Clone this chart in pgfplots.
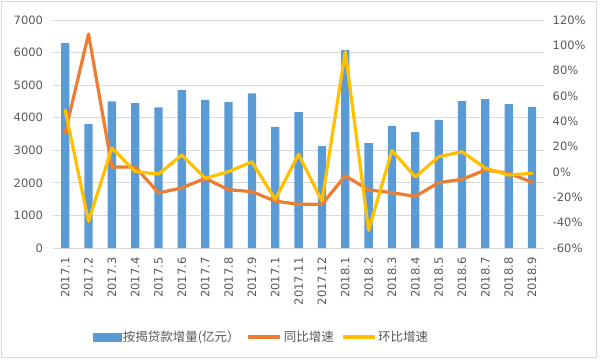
\documentclass[border=0pt]{standalone}
\usepackage{pgfplots}
\pgfplotsset{compat=1.18}
\usepackage{fontspec}
\setmainfont{DejaVu Sans}
\newfontfamily\cjk{Noto Sans CJK SC}
\definecolor{barblue}{HTML}{5B9BD5}
\definecolor{lorange}{HTML}{ED7D31}
\definecolor{lyellow}{HTML}{FFC000}
\definecolor{gridgray}{HTML}{D9D9D9}
\definecolor{txtgray}{HTML}{595959}
\pgfplotsset{
  linelegend/.style={legend image code/.code={\draw[##1, line cap=butt] (0pt,0pt) -- (32pt,0pt);}},
  barlegend/.style={legend image code/.code={\fill[barblue] (0pt,-4pt) rectangle (28pt,4pt);}},
  common/.style={
    scale only axis, width=490.2pt, height=228pt,
    xmin=-0.5, xmax=20.5,
    major tick length=0pt,
    ticklabel style={font=\fontsize{11.5}{13}\selectfont, text=txtgray},
    /pgf/number format/assume math mode=true,
  },
}
\begin{document}
\begin{tikzpicture}
\useasboundingbox (-53.5pt,-112pt) rectangle (546.5pt,248pt);
\draw[gridgray, line width=0.8pt] (-51.8pt,-109.5pt) rectangle (543.2pt,246.3pt);
\begin{axis}[common,
  ymin=0, ymax=7000,
  xtick={0,...,20},
  xticklabels={2017.1,2017.2,2017.3,2017.4,2017.5,2017.6,2017.7,2017.8,2017.9,2017.1,2017.11,2017.12,2018.1,2018.2,2018.3,2018.4,2018.5,2018.6,2018.7,2018.8,2018.9},
  ytick={0,1000,...,7000},
  axis x line*=bottom, axis y line*=left,
  x axis line style={gridgray, line width=0.8pt, -},
  y axis line style={draw=none},
  ymajorgrids, grid style={gridgray, line width=0.8pt},
  xticklabel style={rotate=90, anchor=east},
  xticklabel shift=6pt, yticklabel shift=7pt,
  yticklabel style={/pgf/number format/1000 sep={}},
]
\addplot[ybar, bar width=8.3pt, bar shift=0pt, fill=barblue, draw=none] coordinates {
(0,6290) (1,3800) (2,4500) (3,4450) (4,4320) (5,4850) (6,4550) (7,4480) (8,4750) (9,3720)
(10,4170) (11,3130) (12,6080) (13,3220) (14,3750) (15,3560) (16,3930) (17,4510) (18,4570) (19,4420) (20,4330)};
\end{axis}
\begin{axis}[common,
  ymin=-60, ymax=120,
  axis x line=none, axis y line*=right,
  y axis line style={draw=none},
  ytick={-60,-40,...,120},
  yticklabel={\pgfmathprintnumber{\tick}\%},
  yticklabel shift=5.5pt,
  legend style={at={(0.424,-0.39)}, anchor=center, draw=none, fill=none, legend columns=3,
    font=\cjk\fontsize{12.5}{14}\selectfont, text=txtgray,
    /tikz/every even column/.append style={column sep=5pt}},
]
\addlegendimage{barlegend}
\addlegendentry{按揭贷款增量(亿元）}
\addplot[lorange, line width=3.2pt, line join=round, line cap=round, linelegend] coordinates {
(0,31) (1,109) (2,4) (3,4) (4,-16.5) (5,-12.5) (6,-5) (7,-14) (8,-15.5) (9,-23)
(10,-25.5) (11,-25.5) (12,-3) (13,-14.2) (14,-16.3) (15,-19.3) (16,-8.4) (17,-5.8) (18,1.6) (19,-1) (20,-8)};
\addlegendentry{同比增速}
\addplot[lyellow, line width=3.2pt, line join=round, line cap=round, linelegend] coordinates {
(0,49) (1,-39) (2,19) (3,0.3) (4,-1.6) (5,13.4) (6,-5) (7,0.3) (8,8) (9,-21.6)
(10,14) (11,-23) (12,95) (13,-46) (14,17) (15,-4) (16,12) (17,16) (18,3) (19,-2.4) (20,-1)};
\addlegendentry{环比增速}
\end{axis}
\end{tikzpicture}
\end{document}
